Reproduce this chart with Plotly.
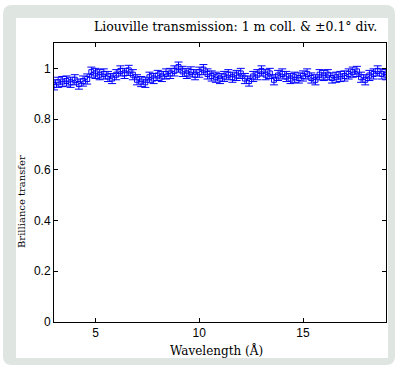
import plotly.graph_objects as go

wavelength = [3.0, 3.2, 3.4, 3.6, 3.8, 4.0, 4.2, 4.4, 4.6, 4.8,
              5.0, 5.2, 5.4, 5.6, 5.8, 6.0, 6.2, 6.4, 6.6, 6.8,
              7.0, 7.2, 7.4, 7.6, 7.8, 8.0, 8.2, 8.4, 8.6, 8.8,
              9.0, 9.2, 9.4, 9.6, 9.8, 10.0, 10.2, 10.4, 10.6, 10.8,
              11.0, 11.2, 11.4, 11.6, 11.8, 12.0, 12.2, 12.4, 12.6, 12.8,
              13.0, 13.2, 13.4, 13.6, 13.8, 14.0, 14.2, 14.4, 14.6, 14.8,
              15.0, 15.2, 15.4, 15.6, 15.8, 16.0, 16.2, 16.4, 16.6, 16.8,
              17.0, 17.2, 17.4, 17.6, 17.8, 18.0, 18.2, 18.4, 18.6, 18.8, 19.0]
transfer = [0.935, 0.945, 0.948, 0.950, 0.945, 0.955, 0.938, 0.950, 0.958, 0.985,
            0.980, 0.975, 0.978, 0.968, 0.960, 0.975, 0.990, 0.980, 0.992, 0.975,
            0.955, 0.948, 0.945, 0.965, 0.960, 0.972, 0.968, 0.978, 0.980, 0.990,
            1.005, 0.988, 0.980, 0.986, 0.975, 0.985, 0.995, 0.978, 0.970, 0.965,
            0.960, 0.968, 0.975, 0.965, 0.972, 0.980, 0.960, 0.950, 0.968, 0.975,
            0.990, 0.975, 0.980, 0.955, 0.972, 0.978, 0.968, 0.960, 0.965, 0.962,
            0.970, 0.978, 0.962, 0.955, 0.975, 0.972, 0.975, 0.962, 0.965, 0.968,
            0.970, 0.978, 0.985, 0.988, 0.965, 0.955, 0.972, 0.978, 0.990, 0.978, 0.975]
error = [0.02] * len(transfer)

x_ticks = [5, 10, 15]
y_ticks = [0, 0.2, 0.4, 0.6, 0.8, 1]
y_tick_labels = ["0", "0.2", "0.4", "0.6", "0.8", "1"]

title_text = "Liouville transmission: 1 m coll. &amp; ±0.1° div."
x_title = "Wavelength (Å)"
y_title = "Brilliance transfer"

W, H = 395, 366
ml, mr, mt, mb = 54, 9, 43, 44
pw, ph = W - ml - mr, H - mt - mb


def px(x):
    return (x - ml) / pw


def py(y):
    return (H - mb - y) / ph


def rounded_path(x0, y0, x1, y1, r):
    pts = [
        ("M", [(x0 + r, y0)]),
        ("L", [(x1 - r, y0)]),
        ("Q", [(x1, y0), (x1, y0 + r)]),
        ("L", [(x1, y1 - r)]),
        ("Q", [(x1, y1), (x1 - r, y1)]),
        ("L", [(x0 + r, y1)]),
        ("Q", [(x0, y1), (x0, y1 - r)]),
        ("L", [(x0, y0 + r)]),
        ("Q", [(x0, y0), (x0 + r, y0)]),
    ]
    s = ""
    for cmd, ps in pts:
        s += cmd + " " + " ".join(f"{px(a):.5f},{py(b):.5f}" for a, b in ps) + " "
    return s + "Z"


SERIF = "DejaVu Serif, Liberation Serif, serif"

fig = go.Figure()
fig.add_trace(go.Scatter(
    x=wavelength, y=transfer,
    mode="lines+markers",
    line=dict(color="#0000ff", width=1),
    marker=dict(symbol="square-open", size=5, color="#0000ff", line=dict(width=1)),
    error_y=dict(type="data", array=error, visible=True, color="#0000ff", thickness=1, width=4),
    showlegend=False,
))

axis_common = dict(
    showline=True, linecolor="black", linewidth=1, mirror="ticks",
    ticks="inside", ticklen=4, tickcolor="black",
    showgrid=False, zeroline=False, automargin=False,
    tickfont=dict(family="Liberation Sans, Arial, sans-serif", size=12, color="black"),
)

fig.update_layout(
    width=W, height=H,
    margin=dict(l=ml, r=mr, t=mt, b=mb),
    paper_bgcolor="white",
    plot_bgcolor="white",
    xaxis=dict(range=[3, 19], tickvals=x_ticks, **axis_common),
    yaxis=dict(range=[0, 1.1], tickvals=y_ticks, ticktext=y_tick_labels, **axis_common),
    shapes=[
        dict(type="path", xref="paper", yref="paper", layer="below",
             path=rounded_path(3, 5, 395, 365, 9),
             fillcolor="#dfe5e1", line=dict(width=0)),
        dict(type="rect", xref="paper", yref="paper", layer="below",
             x0=px(16), x1=px(388), y0=py(358), y1=py(18),
             fillcolor="white", line=dict(width=0)),
    ],
    annotations=[
        dict(text=title_text, xref="paper", yref="paper", x=px(235.5), y=py(27),
             xanchor="center", yanchor="middle", showarrow=False,
             font=dict(family=SERIF, size=12.5, color="black")),
        dict(text=x_title, xref="paper", yref="paper", x=px(216.5), y=py(350),
             xanchor="center", yanchor="middle", showarrow=False,
             font=dict(family=SERIF, size=12, color="black")),
        dict(text=y_title, xref="paper", yref="paper", x=px(22), y=py(202),
             xanchor="center", yanchor="middle", showarrow=False, textangle=-90,
             font=dict(family=SERIF, size=10, color="black")),
    ],
)

fig.write_html("out.html", config={"displayModeBar": False},
               post_script="document.body.style.margin='0px';")
